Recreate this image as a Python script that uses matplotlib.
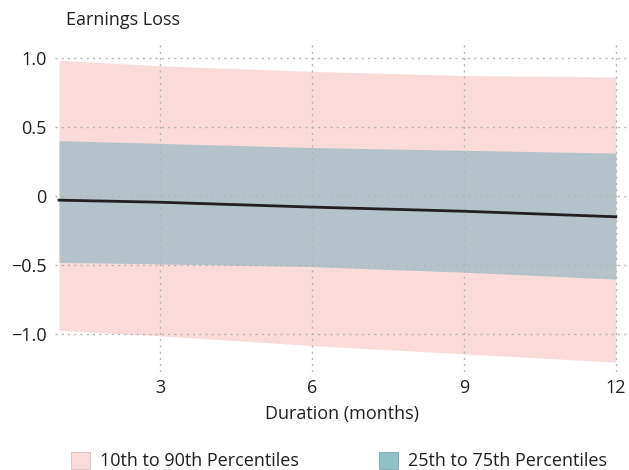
import numpy as np
import matplotlib.pyplot as plt
from matplotlib.patches import Patch

plt.rcParams['font.family'] = ['Open Sans', 'DejaVu Sans']

# data
months = [1, 3, 6, 9, 12]
p10 = [-0.97, -1.01, -1.08, -1.14, -1.20]
p90 = [0.98, 0.94, 0.90, 0.87, 0.86]
p25 = [-0.48, -0.49, -0.51, -0.55, -0.60]
p75 = [0.40, 0.38, 0.35, 0.33, 0.31]
median = [-0.03, -0.045, -0.08, -0.11, -0.15]

xticks = [3, 6, 9, 12]
yticks = [-1.0, -0.5, 0, 0.5, 1.0]
ytick_labels = ['\u22121.0', '\u22120.5', '0', '0.5', '1.0']

pink = '#fadbd9'
band = '#b3c3c9'
teal = '#90c1c8'
txt = '#231f20'

fig = plt.figure(figsize=(6.29, 4.70), dpi=100)
ax = fig.add_axes([55 / 629, 1 - 372 / 470, 1 - 55 / 629, 329 / 470])

ax.fill_between(months, p10, p90, color=pink, lw=0, zorder=1)
ax.fill_between(months, p25, p75, color=band, lw=0, zorder=2)
ax.plot(months, median, color=txt, lw=2, zorder=4)

ax.set_xlim(0.92, 12.26)
ax.set_ylim(-1.271, 1.105)
ax.set_xticks(xticks)
ax.set_xticklabels([str(t) for t in xticks])
ax.set_yticks(yticks)
ax.set_yticklabels(ytick_labels)
ax.tick_params(length=0, labelsize=13, colors=txt)
ax.tick_params(axis='x', pad=5)
ax.tick_params(axis='y', pad=6)
ax.grid(True, color='#b5b5b5', ls=(0, (1.5, 3)), lw=1, zorder=3)
ax.set_axisbelow(False)
for s in ax.spines.values():
    s.set_visible(False)

ax.set_xlabel('Duration (months)', fontsize=13, color=txt, labelpad=6)
fig.text(66 / 629, 1 - 20 / 470, 'Earnings Loss', fontsize=13, color=txt, va='center')

handles = [Patch(facecolor=pink, edgecolor='#d9bcbc', lw=0.6, label='10th to 90th Percentiles'),
           Patch(facecolor=teal, edgecolor='#7aa8ae', lw=0.6, label='25th to 75th Percentiles')]
fig.legend(handles=handles, loc='center', bbox_to_anchor=(339 / 629, 1 - 461 / 470), ncol=2,
           frameon=False, fontsize=13, columnspacing=4.4, handlelength=1.05, handleheight=1.1,
           handletextpad=0.6, labelcolor=txt, borderpad=0)

fig.savefig('out.png', dpi=100)
